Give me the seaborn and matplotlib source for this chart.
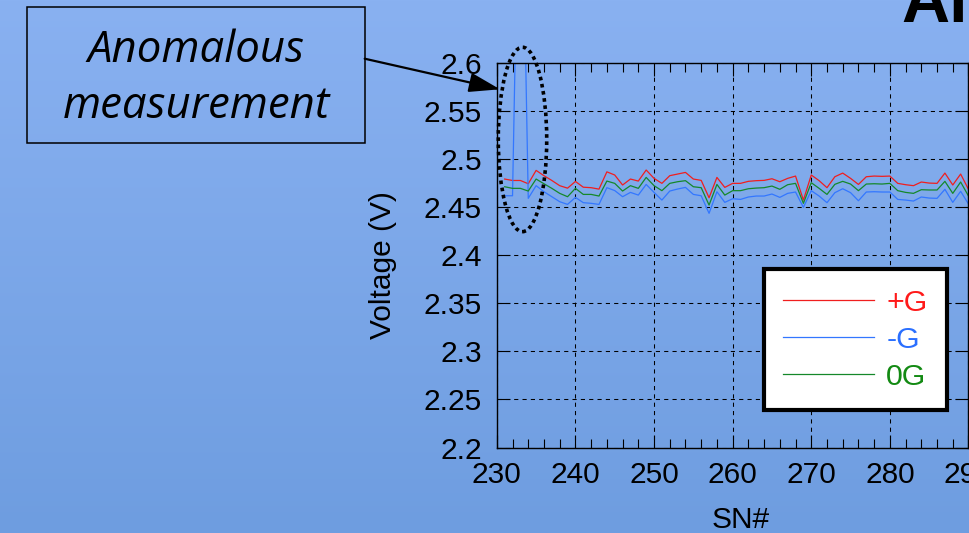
import numpy as np
import pandas as pd
import matplotlib
matplotlib.use("Agg")
import matplotlib.pyplot as plt
from matplotlib.patches import Ellipse, Rectangle
from matplotlib.ticker import MultipleLocator, FixedLocator
import seaborn as sns

# ---------------- data ----------------
sn = np.arange(231, 291)

plus_g = [2.4795, 2.4780, 2.4780, 2.4746, 2.4885, 2.4830, 2.4780, 2.4726, 2.4700, 2.4770,
          2.4710, 2.4705, 2.4690, 2.4870, 2.4837, 2.4733, 2.4795, 2.4774, 2.4889, 2.4802,
          2.4750, 2.4830, 2.4847, 2.4864, 2.4795, 2.4781, 2.4600, 2.4812, 2.4708, 2.4750,
          2.4750, 2.4771, 2.4778, 2.4781, 2.4798, 2.4767, 2.4802, 2.4826, 2.4576, 2.4837,
          2.4778, 2.4705, 2.4819, 2.4857, 2.4802, 2.4739, 2.4819, 2.4826, 2.4823, 2.4826,
          2.4750, 2.4736, 2.4726, 2.4764, 2.4753, 2.4750, 2.4857, 2.4733, 2.4847, 2.4688]

minus_g = [2.4621, 2.4621, 2.9000, 2.4594, 2.4726, 2.4663, 2.4611, 2.4559, 2.4531, 2.4604,
           2.4549, 2.4542, 2.4531, 2.4705, 2.4675, 2.4611, 2.4656, 2.4628, 2.4739, 2.4656,
           2.4576, 2.4670, 2.4691, 2.4708, 2.4635, 2.4621, 2.4438, 2.4663, 2.4552, 2.4590,
           2.4583, 2.4608, 2.4618, 2.4618, 2.4639, 2.4604, 2.4646, 2.4660, 2.4500, 2.4674,
           2.4618, 2.4549, 2.4653, 2.4694, 2.4653, 2.4569, 2.4660, 2.4663, 2.4660, 2.4660,
           2.4583, 2.4576, 2.4566, 2.4608, 2.4597, 2.4594, 2.4688, 2.4552, 2.4667, 2.4535]

zero_g = [2.4715, 2.4698, 2.4698, 2.4670, 2.4795, 2.4746, 2.4698, 2.4646, 2.4611, 2.4698,
          2.4635, 2.4635, 2.4618, 2.4774, 2.4750, 2.4670, 2.4726, 2.4698, 2.4812, 2.4726,
          2.4674, 2.4750, 2.4767, 2.4778, 2.4715, 2.4705, 2.4524, 2.4739, 2.4628, 2.4674,
          2.4674, 2.4694, 2.4701, 2.4705, 2.4722, 2.4688, 2.4736, 2.4750, 2.4542, 2.4757,
          2.4698, 2.4635, 2.4740, 2.4771, 2.4743, 2.4674, 2.4743, 2.4746, 2.4743, 2.4750,
          2.4674, 2.4656, 2.4646, 2.4684, 2.4681, 2.4681, 2.4771, 2.4646, 2.4764, 2.4618]

series_names = ["+G", "-G", "0G"]
series_colors = ["#f01e1e", "#3377ff", "#15882a"]
label_colors = ["#ff1a1a", "#2a6fff", "#138a13"]

xticks = [230, 240, 250, 260, 270, 280, 290]
yticks = [2.2, 2.25, 2.3, 2.35, 2.4, 2.45, 2.5, 2.55, 2.6]
ytick_labels = ["2.2", "2.25", "2.3", "2.35", "2.4", "2.45", "2.5", "2.55", "2.6"]

# ---------------- figure ----------------
plt.rcParams["font.family"] = ["Liberation Sans", "DejaVu Sans"]
W, H = 969, 533
fig = plt.figure(figsize=(W / 100, H / 100), dpi=100)

# slide background gradient
bg = fig.add_axes([0, 0, 1, 1], zorder=-10)
top = np.array([0x89, 0xB1, 0xF1]) / 255
bot = np.array([0x6E, 0x9D, 0xE0]) / 255
t = np.linspace(0, 1, 256)[:, None]
grad = (top[None, :] * (1 - t) + bot[None, :] * t)[:, None, :]
bg.imshow(grad, aspect="auto", extent=[0, 1, 0, 1])
bg.set_axis_off()

ax = fig.add_axes([496.8 / W, (H - 447.5) / H, 471.7 / W, 384.2 / H])
ax.set_facecolor("none")

df = pd.DataFrame({
    "SN": np.concatenate([sn, sn, sn]),
    "V": np.concatenate([plus_g, minus_g, zero_g]),
    "series": np.repeat(series_names, len(sn)),
})
sns.lineplot(data=df, x="SN", y="V", hue="series", hue_order=series_names,
             palette=dict(zip(series_names, series_colors)), linewidth=0.9,
             legend=False, ax=ax)

ax.set_xlim(230, 290)
ax.set_ylim(2.2, 2.6)
ax.xaxis.set_major_locator(FixedLocator(xticks))
ax.xaxis.set_minor_locator(MultipleLocator(2))
ax.yaxis.set_major_locator(FixedLocator(yticks))
ax.set_yticklabels(ytick_labels)
ax.set_xticklabels([str(v) for v in xticks])

ax.grid(True, which="major", color="black", linestyle=(0, (4, 4)), linewidth=0.75)
ax.tick_params(axis="both", which="both", direction="in", top=True, right=True,
               colors="black", labelsize=21.5, width=0.8)
ax.tick_params(axis="both", which="major", length=9.5)
ax.tick_params(axis="x", which="minor", length=6.3)
ax.tick_params(axis="x", which="major", pad=9.5)
ax.tick_params(axis="y", which="major", pad=10.8)
for s in ax.spines.values():
    s.set_color("black")
    s.set_linewidth(1.0)

ax.set_xlabel("SN#", fontsize=21.5)
ax.set_ylabel("Voltage (V)", fontsize=21.5)
ax.xaxis.set_label_coords(0.516, -0.1515)
ax.yaxis.set_label_coords(-0.2116, 0.475)

# legend
handles = [plt.Line2D([], [], color=c, linewidth=0.9) for c in series_colors]
leg = ax.legend(handles, series_names, loc="upper left",
                bbox_to_anchor=(764 / W, (H - 269.3) / H), bbox_transform=fig.transFigure,
                borderaxespad=0, frameon=True, fancybox=False, framealpha=1,
                facecolor="white", edgecolor="black", fontsize=21.8,
                borderpad=0.64, labelspacing=0.3, handlelength=3.0, handletextpad=0.4)
leg.get_frame().set_linewidth(3)
for txt, c in zip(leg.get_texts(), label_colors):
    txt.set_color(c)

# dotted ellipse around the anomaly
ell = Ellipse((233.27, 2.5207), width=6.16, height=0.192, fill=False,
              edgecolor="black", linestyle=(0, (1, 1)), linewidth=2.6, clip_on=False,
              zorder=5)
ax.add_patch(ell)

# annotation box
box = Rectangle((27 / W, (H - 142.7) / H), (364.7 - 27) / W, (142.7 - 6.7) / H,
                transform=fig.transFigure, fill=False, edgecolor="black", linewidth=1.1)
fig.patches.append(box)
fig.text(196 / W, (H - 61.7) / H, "Anomalous", family=["Open Sans", "DejaVu Sans"],
         style="italic", fontsize=31.5, ha="center", va="baseline", color="black")
fig.text(196 / W, (H - 118.3) / H, "measurement", family=["Open Sans", "DejaVu Sans"],
         style="italic", fontsize=31.5, ha="center", va="baseline", color="black")

ax.annotate("", xy=(500, H - 89.3), xycoords="figure pixels",
            xytext=(364.7, H - 58.7), textcoords="figure pixels",
            arrowprops=dict(arrowstyle="-|>,head_length=0.95,head_width=0.3",
                            mutation_scale=20, lw=1.6, color="black",
                            shrinkA=0, shrinkB=0))

# partially visible slide title
fig.text(901 / W, (H - 21.7) / H, "Al", fontsize=48, fontweight="bold",
         ha="left", va="baseline", color="black")

fig.savefig("out.png", dpi=100)
